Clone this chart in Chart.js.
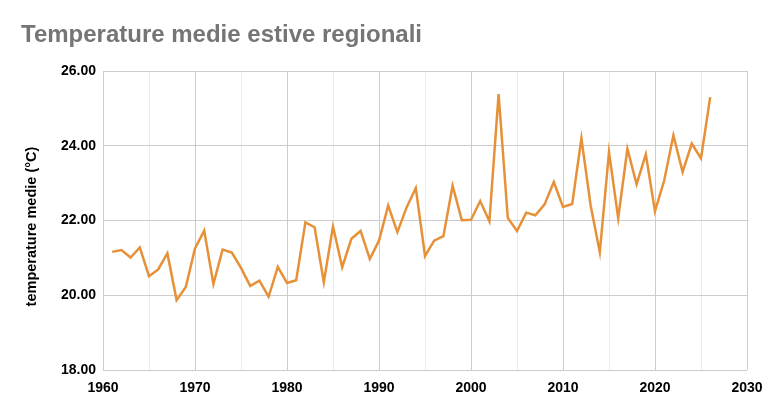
<!DOCTYPE html>
<html>
<head>
<meta charset="utf-8">
<title>Temperature medie estive regionali</title>
<script src="https://cdn.jsdelivr.net/npm/chart.js@4"></script>
<style>
    html, body { margin: 0; padding: 0; background: #fff; }
    #wrap { width: 768px; height: 415px; }
</style>
</head>
<body>
<div id="wrap"><canvas id="chart"></canvas></div>
<script>
// ------------------ DATA ------------------
const years = [
    1961, 1962, 1963, 1964, 1965, 1966, 1967, 1968, 1969, 1970,
    1971, 1972, 1973, 1974, 1975, 1976, 1977, 1978, 1979, 1980,
    1981, 1982, 1983, 1984, 1985, 1986, 1987, 1988, 1989, 1990,
    1991, 1992, 1993, 1994, 1995, 1996, 1997, 1998, 1999, 2000,
    2001, 2002, 2003, 2004, 2005, 2006, 2007, 2008, 2009, 2010,
    2011, 2012, 2013, 2014, 2015, 2016, 2017, 2018, 2019, 2020,
    2021, 2022, 2023, 2024, 2025, 2026
];
const temperatures = [
    21.16, 21.21, 21.01, 21.28, 20.51, 20.69, 21.12, 19.87, 20.22, 21.25,
    21.73, 20.30, 21.22, 21.14, 20.73, 20.25, 20.39, 19.96, 20.76, 20.33,
    20.40, 21.95, 21.82, 20.35, 21.84, 20.75, 21.51, 21.72, 20.97, 21.46,
    22.40, 21.69, 22.35, 22.87, 21.05, 21.46, 21.58, 22.93, 22.01, 22.02,
    22.52, 21.98, 25.38, 22.07, 21.72, 22.21, 22.14, 22.43, 23.03, 22.36,
    22.44, 24.20, 22.41, 21.15, 23.83, 22.06, 23.92, 22.97, 23.77, 22.25,
    23.07, 24.28, 23.30, 24.06, 23.66, 25.30
];
const xTicks = [1960, 1970, 1980, 1990, 2000, 2010, 2020, 2030];
const yTicks = [18, 20, 22, 24, 26];

// ------------------ CHART ------------------
const ctx = document.getElementById("chart").getContext("2d");
const fontFamily = "'Liberation Sans', Arial, sans-serif";

new Chart(ctx, {
    type: 'line',
    data: {
        datasets: [{
            data: years.map((yr, i) => ({ x: yr, y: temperatures[i] })),
            borderColor: '#e69138',
            borderWidth: 2.5,
            borderJoinStyle: 'miter',
            pointRadius: 0,
            pointHoverRadius: 0,
            fill: false,
            tension: 0
        }]
    },
    options: {
        responsive: true,
        maintainAspectRatio: false,
        animation: false,
        layout: { padding: { left: 21, right: 21, top: 0, bottom: 0 } },
        plugins: {
            legend: { display: false },
            tooltip: { enabled: false },
            title: {
                display: true,
                text: 'Temperature medie estive regionali',
                align: 'start',
                color: '#757575',
                font: { family: fontFamily, size: 24, weight: 'bold' },
                padding: { top: 21, bottom: 21.2 }
            }
        },
        scales: {
            x: {
                type: 'linear',
                min: xTicks[0],
                max: xTicks[xTicks.length - 1],
                afterFit: (scale) => {
                    // the layout padding already leaves room for the end labels
                    scale.height = 45;
                    scale.paddingLeft = 0;
                    scale.paddingRight = 0;
                },
                border: { display: false },
                grid: {
                    drawTicks: false,
                    color: (c) => xTicks.includes(c.tick.value) ? '#cccccc' : '#ebebeb'
                },
                ticks: {
                    stepSize: 5,
                    autoSkip: false,
                    maxRotation: 0,
                    padding: 10,
                    color: '#000',
                    font: { family: fontFamily, size: 14, weight: 'bold' },
                    callback: (v) => xTicks.includes(v) ? String(v) : ''
                }
            },
            y: {
                min: yTicks[0],
                max: yTicks[yTicks.length - 1],
                afterFit: (scale) => { scale.width = 82; },
                border: { display: false },
                grid: { drawTicks: false, color: '#cccccc' },
                ticks: {
                    stepSize: 2,
                    padding: 7,
                    color: '#000',
                    font: { family: fontFamily, size: 14, weight: 'bold' },
                    callback: (v) => v.toFixed(2)
                },
                title: {
                    display: true,
                    // trailing spaces nudge the rotated label a little lower, as in the original
                    text: 'temperature medie (°C)   ',
                    color: '#000',
                    font: { family: fontFamily, size: 14.5, weight: 'bold' },
                    padding: { top: 2, bottom: 0 }
                }
            }
        }
    }
});
</script>
</body>
</html>
